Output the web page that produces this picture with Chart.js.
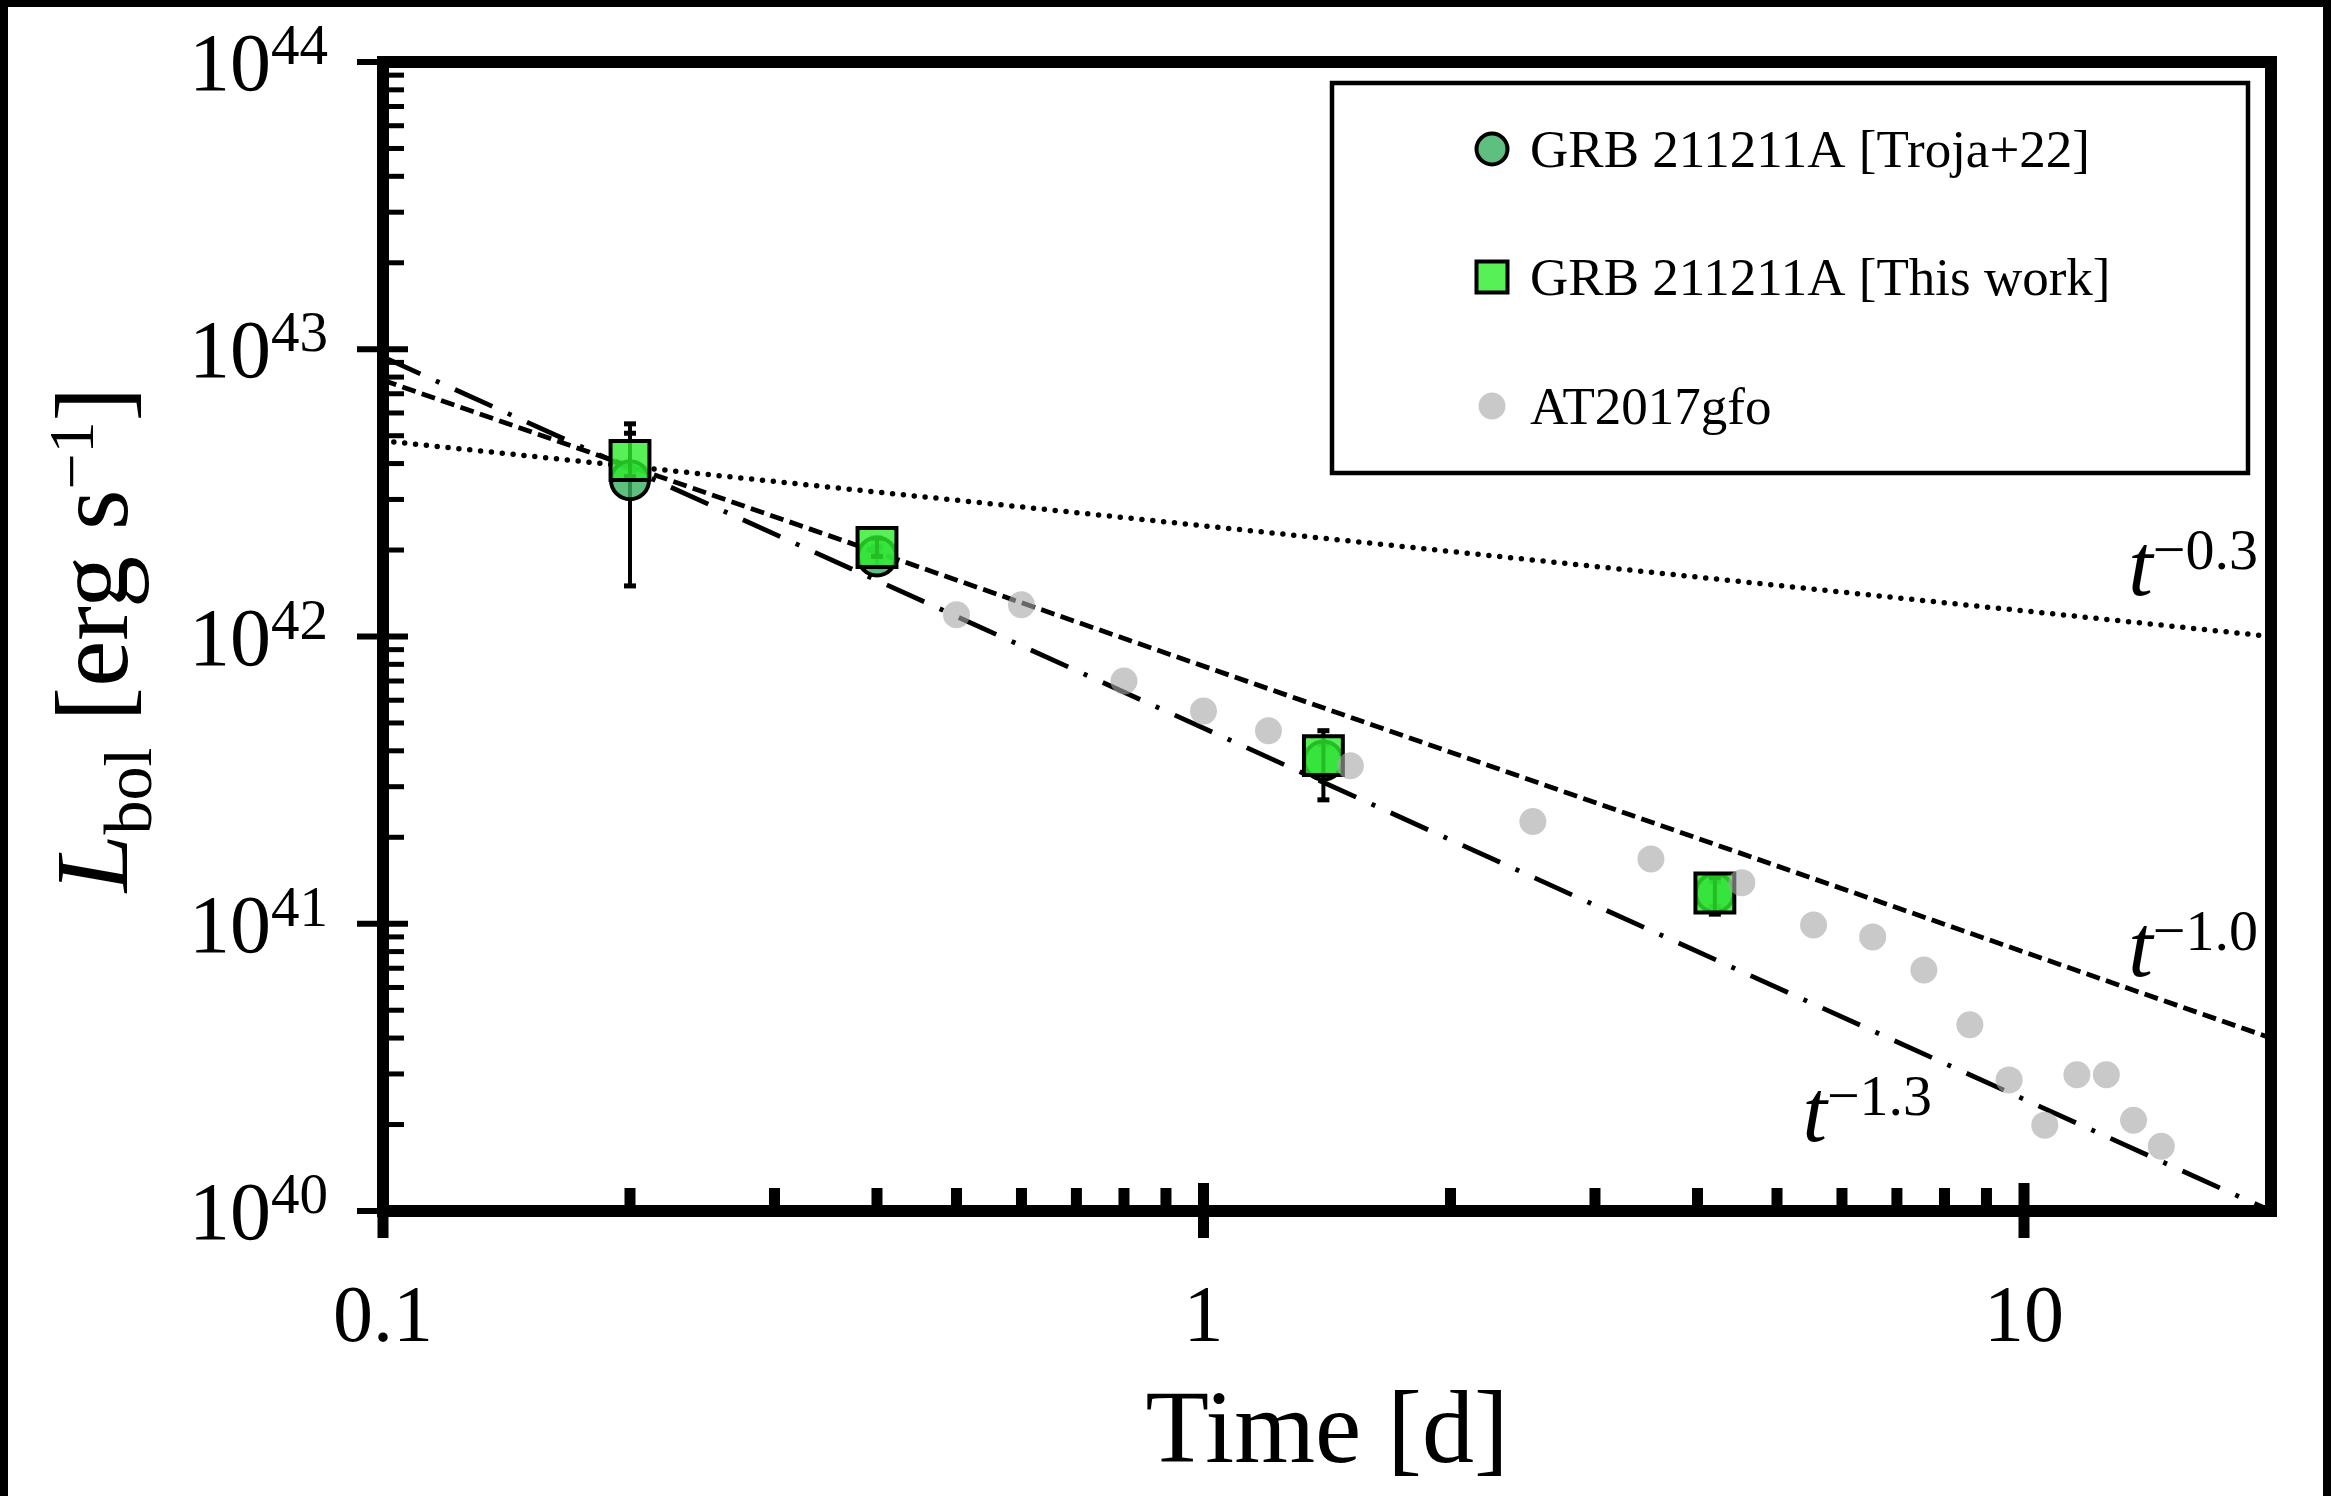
<!DOCTYPE html>
<html>
<head>
<meta charset="utf-8">
<script src="https://cdn.jsdelivr.net/npm/chart.js@4.4.1/dist/chart.umd.min.js"></script>
<style>
  html, body { margin: 0; padding: 0; background: #fff; }
  #wrap { width: 2331px; height: 1496px; }
</style>
</head>
<body>
<div id="wrap"><canvas id="lum" width="2331" height="1496"></canvas></div>
<script>
// Bolometric light curve of GRB 211211A against AT2017gfo, with power-law guides

// GRB 211211A epochs [d]
const grbTimes = [0.2, 0.4, 1.4, 4.2];
// Troja+22 luminosity and error bounds [erg/s]
const trojaLum  = [3.5e42, 1.9e42, 3.7e41, 1.28e41];
const trojaLow  = [1.5e42, 1.75e42, 3.3e41, 1.15e41];
const trojaHigh = [5.5e42, 2.05e42, 4.2e41, 1.4e41];
// this work
const workLum  = [4.1e42, 2.04e42, 3.85e41, 1.28e41];
const workLow  = [3.6e42, 1.9e42, 2.7e41, 1.08e41];
const workHigh = [5.1e42, 2.2e42, 4.7e41, 1.45e41];

// AT2017gfo
const gfoTimes = [0.50, 0.60, 0.80, 1.00, 1.20, 1.51, 2.52, 3.51, 4.53, 5.54,
                  6.54, 7.55, 8.59, 9.59, 10.6, 11.6, 12.6, 13.6, 14.7];
const gfoLum = [1.19e42, 1.29e42, 7.0e41, 5.5e41, 4.7e41, 3.55e41, 2.27e41, 1.68e41, 1.39e41, 9.9e40,
                9.0e40, 6.9e40, 4.45e40, 2.86e40, 1.99e40, 2.98e40, 2.98e40, 2.07e40, 1.68e40];

// power-law guides, values at the two ends of the time axis
const guideTimes = [0.1, 20];
const guide03 = [4.8e42, 1.0e42];
const guide10 = [7.8e42, 4.0e40];
const guide13 = [9.4e42, 1.0e40];
const guideIndex = ['\u22120.3', '\u22121.0', '\u22121.3'];

// axis ticks
const xMajor = [0.1, 1, 10];
const xMajorLabels = ['0.1', '1', '10'];
const xMinor = [0.2, 0.3, 0.4, 0.5, 0.6, 0.7, 0.8, 0.9, 2, 3, 4, 5, 6, 7, 8, 9];
const yDecades = [40, 41, 42, 43, 44];
const yMinorSteps = [2, 3, 4, 5, 6, 7, 8, 9];

const legendLabels = ['GRB 211211A [Troja+22]', 'GRB 211211A [This work]', 'AT2017gfo'];

const SERIF = '"Liberation Serif", "Times New Roman", serif';
const TROJA_FILL = 'rgba(55,175,96,0.8)';
const WORK_FILL = 'rgba(45,238,45,0.8)';
const GFO_FILL = 'rgba(168,168,168,0.62)';

// where the guide labels sit (time, luminosity of the baseline)
const guideLabelAt = [[13.4, 1.39e42], [13.4, 6.6e40], [5.37, 1.75e40]];

const pts = (xs, ys) => xs.map((x, i) => ({ x: x, y: ys[i] }));
const guideLine = (vals, width, dash, cap) => ({
  type: 'line',
  data: pts(guideTimes, vals),
  showLine: true,
  borderColor: '#000',
  borderWidth: width,
  borderDash: dash,
  borderCapStyle: cap,
  pointRadius: 0,
  order: 3
});

function drawPow(c, base, exp, x, y, baseFont, supFont, rise) {
  c.font = baseFont;
  c.fillText(base, x, y);
  const w = c.measureText(base).width;
  c.font = supFont;
  c.fillText(exp, x + w, y - rise);
}

const decor = {
  id: 'decor',
  beforeDraw(chart) {
    const c = chart.ctx;
    c.save();
    c.fillStyle = '#fff';
    c.fillRect(0, 0, chart.width, chart.height);
    c.fillStyle = '#000';
    c.fillRect(0, 0, 8, chart.height);
    c.fillRect(0, 0, chart.width, 7);
    c.fillRect(chart.width - 8, 0, 8, chart.height);
    c.restore();
  },
  // error bars go under the markers
  beforeDatasetDraw(chart, args) {
    const ds = chart.data.datasets[args.index];
    if (!ds.errLow) return;
    const xs = chart.scales.x, ys = chart.scales.y, c = chart.ctx;
    c.save();
    c.strokeStyle = '#000';
    c.fillStyle = '#000';
    c.lineWidth = 4;
    ds.data.forEach((p, i) => {
      const px = xs.getPixelForValue(p.x);
      const lo = ys.getPixelForValue(ds.errLow[i]);
      const hi = ys.getPixelForValue(ds.errHigh[i]);
      c.beginPath();
      c.moveTo(px, lo);
      c.lineTo(px, hi);
      c.stroke();
      c.fillRect(px - 6, lo - 2.5, 12, 5);
      c.fillRect(px - 6, hi - 2.5, 12, 5);
    });
    c.restore();
  },
  afterDraw(chart) {
    const c = chart.ctx, a = chart.chartArea;
    const xs = chart.scales.x, ys = chart.scales.y;
    c.save();

    // axis box
    c.strokeStyle = '#000';
    c.lineWidth = 12;
    c.lineJoin = 'miter';
    c.strokeRect(a.left, a.top, a.right - a.left, a.bottom - a.top);

    // y ticks: majors cross the axis, minors point inward
    c.fillStyle = '#000';
    yDecades.forEach(d => {
      const py = ys.getPixelForValue(Math.pow(10, d));
      c.fillRect(a.left - 26, py - 3, 51, 6);
      if (d < 44) {
        yMinorSteps.forEach(m => {
          const my = ys.getPixelForValue(m * Math.pow(10, d));
          c.fillRect(a.left, my - 2.5, 21, 5);
        });
      }
    });
    // x ticks
    xMajor.forEach(v => {
      const px = xs.getPixelForValue(v);
      c.fillRect(px - 5.5, a.bottom - 28, 11, 55);
    });
    xMinor.forEach(v => {
      const px = xs.getPixelForValue(v);
      c.fillRect(px - 5.5, a.bottom - 23, 11, 23);
    });

    // tick labels
    c.textBaseline = 'alphabetic';
    c.textAlign = 'center';
    c.font = '80px ' + SERIF;
    xMajor.forEach((v, i) => {
      c.fillText(xMajorLabels[i], xs.getPixelForValue(v), a.bottom + 130);
    });
    c.textAlign = 'left';
    yDecades.forEach(d => {
      const py = ys.getPixelForValue(Math.pow(10, d));
      c.font = '82px ' + SERIF;
      const wb = c.measureText('10').width;
      c.font = '57px ' + SERIF;
      const ws = c.measureText(String(d)).width;
      drawPow(c, '10', String(d), a.left - 55 - wb - ws, py + 28,
              '82px ' + SERIF, '57px ' + SERIF, 26);
    });

    // axis titles
    c.textAlign = 'center';
    c.font = '104px ' + SERIF;
    c.fillText('Time [d]', (a.left + a.right) / 2, 1462);

    c.save();
    c.translate(127, (a.top + a.bottom) / 2 + 3);
    c.rotate(-Math.PI / 2);
    c.textAlign = 'left';
    const parts = [
      ['L', 'italic 104px ' + SERIF, 0],
      ['bol', '68px ' + SERIF, -24],
      [' [erg s', '104px ' + SERIF, 0],
      ['\u22121', '64px ' + SERIF, 34],
      [']', '104px ' + SERIF, 0]
    ];
    let total = 0;
    parts.forEach(p => { c.font = p[1]; total += c.measureText(p[0]).width; });
    let tx = -total / 2;
    parts.forEach(p => {
      c.font = p[1];
      c.fillText(p[0], tx, -p[2]);
      tx += c.measureText(p[0]).width;
    });
    c.restore();

    // guide labels
    c.textAlign = 'left';
    guideLabelAt.forEach((pos, i) => {
      const gx = xs.getPixelForValue(pos[0]);
      const gy = ys.getPixelForValue(pos[1]);
      drawPow(c, 't', guideIndex[i], gx, gy,
              'italic 88px ' + SERIF, '58px ' + SERIF, 26);
    });

    // legend
    const lx = 1332, ly = 83, lw = 916, lh = 390;
    c.fillStyle = '#fff';
    c.fillRect(lx, ly, lw, lh);
    c.lineWidth = 4.5;
    c.strokeStyle = '#000';
    c.strokeRect(lx, ly, lw, lh);
    const rows = [149, 277, 406];
    const mx = 1492;
    // circle
    c.beginPath();
    c.arc(mx, rows[0], 15.5, 0, Math.PI * 2);
    c.fillStyle = TROJA_FILL;
    c.fill();
    c.lineWidth = 4;
    c.stroke();
    // square
    c.fillStyle = WORK_FILL;
    c.fillRect(mx - 15.5, rows[1] - 15.5, 31, 31);
    c.strokeRect(mx - 15.5, rows[1] - 15.5, 31, 31);
    // gray dot
    c.beginPath();
    c.arc(mx, rows[2], 13.5, 0, Math.PI * 2);
    c.fillStyle = GFO_FILL;
    c.fill();

    c.fillStyle = '#000';
    c.font = '53px ' + SERIF;
    legendLabels.forEach((t, i) => c.fillText(t, 1530, rows[i] + 18));

    c.restore();
  }
};

new Chart(document.getElementById('lum'), {
  type: 'scatter',
  data: {
    datasets: [
      guideLine(guide03, 5.5, [0, 10.9], 'round'),
      guideLine(guide10, 4.8, [14, 6.5], 'butt'),
      guideLine(guide13, 4.8, [41, 17, 4, 17], 'butt'),
      {
        label: legendLabels[0],
        data: pts(grbTimes, trojaLum),
        errLow: trojaLow,
        errHigh: trojaHigh,
        pointStyle: 'circle',
        pointRadius: 19,
        pointBorderWidth: 4,
        pointBackgroundColor: TROJA_FILL,
        pointBorderColor: '#000',
        order: 2
      },
      {
        label: legendLabels[1],
        data: pts(grbTimes, workLum),
        errLow: workLow,
        errHigh: workHigh,
        pointStyle: 'rect',
        pointRadius: 27.5,
        pointBorderWidth: 4,
        pointBackgroundColor: WORK_FILL,
        pointBorderColor: '#000',
        order: 1
      },
      {
        label: legendLabels[2],
        data: pts(gfoTimes, gfoLum),
        pointStyle: 'circle',
        pointRadius: 13.5,
        pointBorderWidth: 0,
        pointBackgroundColor: GFO_FILL,
        order: 0
      }
    ]
  },
  options: {
    responsive: false,
    animation: false,
    layout: { padding: { left: 383, top: 62, right: 60, bottom: 285 } },
    plugins: { legend: { display: false }, tooltip: { enabled: false } },
    scales: {
      x: { type: 'logarithmic', min: 0.1, max: 20, display: false },
      y: { type: 'logarithmic', min: 1e40, max: 1e44, display: false }
    }
  },
  plugins: [decor]
});
</script>
</body>
</html>
